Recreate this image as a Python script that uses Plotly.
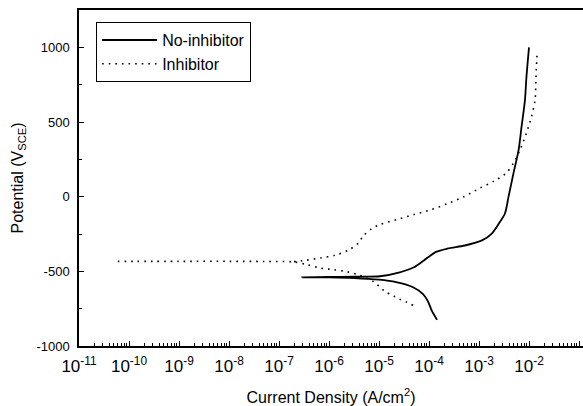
import plotly.graph_objects as go

# No-inhibitor: cathodic branch (from high current toward Ecorr) then anodic branch
no_inh_current = [1.45e-4, 1.15e-4, 9.5e-5, 7.6e-5, 4.8e-5, 2.2e-5, 1.0e-5, 3.2e-6, 1.0e-6, 2.9e-7,
                  1.0e-6, 3.2e-6, 1.05e-5, 2.6e-5, 5.0e-5, 7.9e-5, 1.38e-4, 2.4e-4, 5.2e-4, 1.15e-3,
                  1.8e-3, 2.5e-3, 3.3e-3, 3.9e-3, 4.9e-3, 6.2e-3, 7.1e-3, 8.3e-3, 8.9e-3, 1.0e-2]
no_inh_potential = [-825, -767, -700, -653, -607, -573, -556, -545, -541, -540,
                    -538, -536, -533, -507, -473, -427, -370, -347, -327, -293,
                    -247, -180, -113, 0, 158, 313, 469, 647, 803, 1000]

# Inhibitor: cathodic branch down to the Ecorr minimum, then (separate segment) anodic branch
inh_cath_current = [4.8e-5, 3.6e-5, 2.6e-5, 2.0e-5, 1.3e-5, 7.6e-6, 3.9e-6, 2.1e-6, 1.3e-6, 6.9e-7,
                    3.7e-7, 2.0e-7, 5e-8, 1e-8, 1e-9, 6e-11]
inh_cath_potential = [-727, -707, -687, -667, -633, -567, -524, -500, -490, -479,
                      -456, -437, -434, -433, -433, -433]
inh_anod_current = [2.0e-7, 3.6e-7, 6.9e-7, 1.3e-6, 2.4e-6, 3.9e-6, 4.8e-6, 7.1e-6, 1.05e-5, 2.3e-5,
                    5.0e-5, 1.1e-4, 2.4e-4, 5.0e-4, 1.05e-3, 1.95e-3, 3.5e-3, 4.9e-3, 6.6e-3, 8.9e-3,
                    1.12e-2, 1.32e-2, 1.38e-2, 1.45e-2]
inh_anod_potential = [-435, -425, -410, -393, -360, -310, -265, -215, -187, -153,
                      -120, -87, -45, 0, 58, 102, 158, 225, 313, 427,
                      535, 647, 800, 967]

x_exponents = list(range(-11, 0))
x_tickvals = [10.0 ** e for e in x_exponents]
x_ticktext = ["10<sup>%d</sup>" % e for e in x_exponents]
x_minor = [m * 10.0 ** e for e in range(-11, -1) for m in range(2, 10)]

y_tickvals = [-1000, -500, 0, 500, 1000]
y_ticktext = ["-1000", "-500", "0", "500", "1000"]
y_minor = [-750, -250, 250, 750]

inh_x = inh_cath_current + [None] + inh_anod_current
inh_y = inh_cath_potential + [None] + inh_anod_potential

fig = go.Figure()
fig.add_trace(go.Scatter(x=no_inh_current, y=no_inh_potential, mode="lines",
                         name="No-inhibitor",
                         line=dict(color="black", width=1.8, shape="spline", smoothing=0.8)))
fig.add_trace(go.Scatter(x=inh_x, y=inh_y, mode="lines", connectgaps=False,
                         name="Inhibitor",
                         line=dict(color="black", width=1.6, dash="1.6px,5px",
                                   shape="spline", smoothing=0.8)))

font = "Liberation Sans, Arial, Helvetica, sans-serif"
fig.update_layout(
    width=583, height=406,
    margin=dict(l=79, r=0, t=10, b=60, autoexpand=False),
    paper_bgcolor="white", plot_bgcolor="white",
    font=dict(family=font, color="black", size=12),
    showlegend=True,
    legend=dict(x=0.034, y=0.964, xanchor="left", yanchor="top",
                bordercolor="black", borderwidth=1, bgcolor="white",
                font=dict(size=16, family=font), itemwidth=55,
                tracegroupgap=0),
    xaxis=dict(type="log", range=[-11, -0.92], showline=True, linecolor="black", linewidth=1.5,
               mirror=True, ticks="inside", ticklen=5, tickwidth=1, tickcolor="black",
               tickmode="array", tickvals=x_tickvals, ticktext=x_ticktext,
               minor=dict(ticks="inside", ticklen=3, tickwidth=1, tickcolor="black",
                          tickmode="array", tickvals=x_minor),
               showgrid=False, zeroline=False, automargin=False,
               tickfont=dict(size=17), ticklabelstandoff=4,
               title=dict(text="Current Density (A/cm<sup>2</sup>)", font=dict(size=16), standoff=17)),
    yaxis=dict(range=[-1000, 1250], showline=True, linecolor="black", linewidth=1.5,
               mirror=False, ticks="inside", ticklen=5, tickwidth=1, tickcolor="black",
               tickmode="array", tickvals=y_tickvals, ticktext=y_ticktext,
               minor=dict(ticks="inside", ticklen=3, tickwidth=1, tickcolor="black",
                          tickmode="array", tickvals=y_minor),
               showgrid=False, zeroline=False, automargin=False,
               tickfont=dict(size=13), ticklabelstandoff=5,
               title=dict(text="Potential (V<sub>SCE</sub>)", font=dict(size=16), standoff=9)),
)

fig.write_html("out.html")
